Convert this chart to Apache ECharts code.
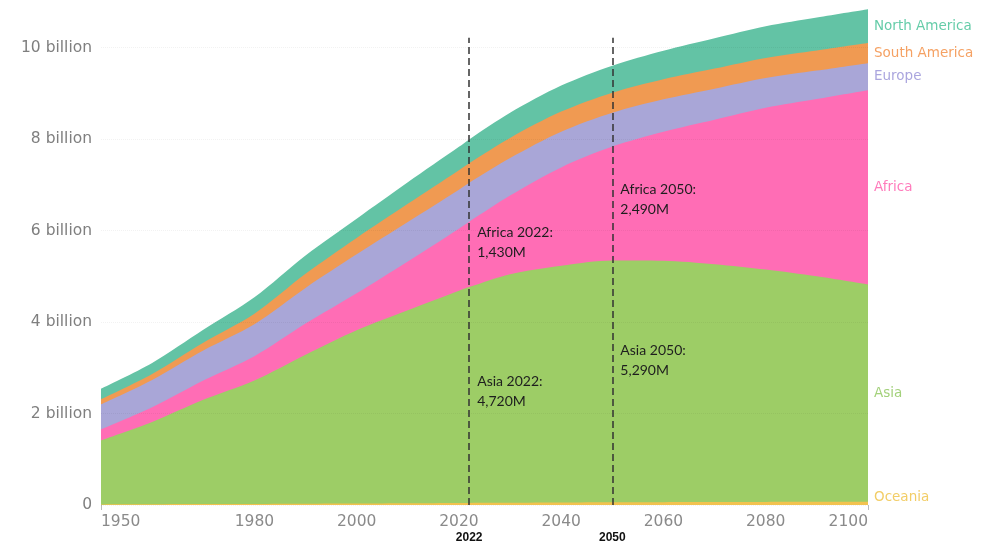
<!DOCTYPE html>
<html><head><meta charset="utf-8">
<script src="https://cdn.jsdelivr.net/npm/echarts@6/dist/echarts.min.js"></script>
<style>html,body{margin:0;padding:0;background:#fff}#c{width:986px;height:541px}</style>
</head><body><div id="c"></div>
<script>
// Population by region, millions
const years      = [1950,1960,1970,1980,1990,2000,2010,2020,2022,2030,2040,2050,2060,2070,2080,2090,2100];
const oceania    = [13,16,20,23,27,31,37,43,45,48,53,58,62,65,68,70,72];
const asia       = [1400,1800,2280,2700,3260,3790,4220,4640,4720,5000,5180,5290,5280,5200,5080,4930,4750];
const africa     = [240,320,420,530,680,810,1070,1360,1430,1720,2150,2490,2820,3160,3540,3880,4250];
const europe     = [550,600,660,700,780,850,860,850,850,820,780,740,710,680,650,620,590];
const southAm    = [110,130,170,230,310,360,400,430,430,440,440,440,440,440,440,440,440];
const northAm    = [230,240,280,360,400,420,470,510,520,550,570,590,620,660,690,720,740];
const seriesNames = ['Oceania','Asia','Africa','Europe','South America','North America'];
const xTickLabels = [1950,1980,2000,2020,2040,2060,2080,2100];
const yTickValues = [0,2000,4000,6000,8000,10000];
const markYears   = [2022,2050];
const annotRegions = ['Africa','Asia','Africa','Asia'];
const annotYears   = [2022,2022,2050,2050];

const allVals = [oceania, asia, africa, europe, southAm, northAm];
const fills = ['#f2c24f','#9dcd66','#ff6db5','#a9a6d7','#f09a52','#63c3a5'];
const textCols = ['#efc040','#8cc65a','#ff5aaa','#958fd6','#f28a3c','#3fbf92'];
const fmtM = v => v.toLocaleString('en-US') + 'M';
const axisFont = 'DejaVu Sans, Verdana, sans-serif';

// cumulative (stacked) tops, computed from the region arrays
const cumul = [];
allVals.forEach((arr,k)=>{
  cumul.push(arr.map((v,i)=> v + (k>0 ? cumul[k-1][i] : 0)));
});

// draw the top band first so each lower band covers the one above it
const areaSeries = seriesNames.map((n,k)=>({
  name:n, type:'line', data: years.map((y,i)=>[y, cumul[k][i]]),
  smooth:0.3, symbol:'none',
  lineStyle:{width:0}, areaStyle:{color:fills[k], opacity:1, origin:'start'},
  itemStyle:{color:fills[k]}, emphasis:{disabled:true}, z:2
})).reverse();

// End labels at the middle of each band in the last year
const last = years.length-1;
const endData = seriesNames.map((n,k)=>{
  const top = cumul[k][last];
  const mid = top - allVals[k][last]/2;
  return {value:[years[last], mid], name:n,
    label:{color:textCols[k], offset: k===0?[0,-6]:[0,0]}};
});

// Annotation positions (label centre heights, in millions on the y axis)
const annotPosY = [5730, 2490, 6690, 3170];
const regionArr = {Africa:africa, Asia:asia};
const annotPoints = annotRegions.map((r,i)=>({
  coord:[annotYears[i], annotPosY[i]],
  label:{formatter: r+' '+annotYears[i]+':\n'+fmtM(regionArr[r][years.indexOf(annotYears[i])])}
}));

const option = {
  animation:false,
  backgroundColor:'#fff',
  grid:{left:101, right:118, top:2, bottom:36},
  xAxis:{type:'value', min:1950, max:2100,
    axisLine:{show:false},
    axisTick:{show:true, customValues:[1950,2100], length:5, lineStyle:{color:'#bbb'}},
    splitLine:{show:false},
    axisLabel:{customValues:xTickLabels, color:'#8a8a8a', fontSize:15.5, fontFamily:axisFont,
      margin:9, alignMinLabel:'left', alignMaxLabel:'right', formatter:v=>String(v)}
  },
  yAxis:{type:'value', min:0, max:11000, z:3,
    axisLine:{show:false}, axisTick:{show:false},
    splitLine:{show:true, lineStyle:{color:'rgba(0,0,0,0.05)', type:'dotted'}, showMaxLine:false},
    axisLabel:{customValues:yTickValues, color:'#7f7f7f', fontSize:15.5, fontFamily:axisFont, margin:9,
      formatter:v=> v===0 ? '0' : (v/1000)+' billion'}
  },
  series: areaSeries.concat([
    {type:'scatter', name:'endLabels', data:endData, symbolSize:0, silent:true, z:5,
      label:{show:true, position:'right', distance:6, fontSize:13.5, fontFamily:axisFont,
        formatter:p=>p.name}},
    {type:'scatter', name:'annot', data:[], silent:true, z:6,
      markLine:{symbol:['none','none'], silent:true, animation:false,
        lineStyle:{color:'#333', type:[7,4], width:1.5},
        label:{show:true, position:'start', distance:27, color:'#111', fontWeight:'bold', fontSize:12,
          fontFamily:'Liberation Sans, Arial, sans-serif'},
        data: markYears.map(y=>[{coord:[y,0], label:{formatter:String(y)}},{coord:[y,10220]}])
      },
      markPoint:{symbol:'circle', symbolSize:0, silent:true,
        label:{show:true, position:'right', distance:8, color:'#1e1e1e', fontSize:14, lineHeight:20,
          fontFamily:'Lato, Noto Sans, sans-serif', align:'left'},
        data: annotPoints}
    }
  ])
};
const chart = echarts.init(document.getElementById('c'), null, {renderer:'canvas'});
chart.setOption(option);
</script>
</body></html>
